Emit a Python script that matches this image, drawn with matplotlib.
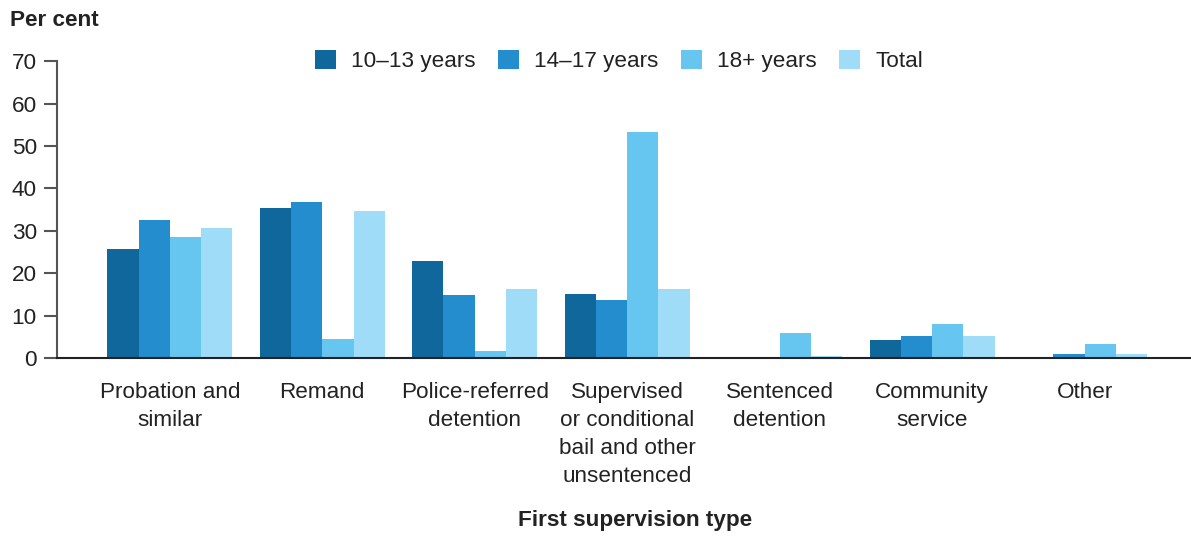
import numpy as np
import matplotlib.pyplot as plt

plt.rcParams['font.family'] = ['Liberation Sans', 'DejaVu Sans']

# Datos
categorias = ["Probation and\nsimilar", "Remand", "Police-referred\ndetention",
              "Supervised\nor conditional\nbail and other\nunsentenced",
              "Sentenced\ndetention", "Community\nservice", "Other"]
edad_10_13 = [25.7, 35.4, 22.9, 15.1, 0.2, 4.3, 0.2]
edad_14_17 = [32.5, 36.7, 14.8, 13.6, 0.2, 5.2, 1.0]
edad_18_mas = [28.5, 4.5, 1.7, 53.2, 5.8, 8.0, 3.4]
total = [30.7, 34.6, 16.2, 16.2, 0.6, 5.3, 1.0]

series = [edad_10_13, edad_14_17, edad_18_mas, total]
etiquetas = ["10\u201313 years", "14\u201317 years", "18+ years", "Total"]
colores = ["#10679B", "#238DCD", "#66C6F0", "#9FDCF7"]

fs = 16.2
fig = plt.figure(figsize=(11.91, 5.36), dpi=100)
ax = fig.add_axes([0.0479, 0.332, 0.951, 0.554])

x = np.arange(len(categorias))
ancho = 0.205
for i, (vals, etq, col) in enumerate(zip(series, etiquetas, colores)):
    ax.bar(x + (i - 1.5) * ancho, vals, ancho, color=col, label=etq)

ax.set_xlim(-0.74, 6.69)
ax.set_ylim(0, 70)
ax.set_yticks(range(0, 71, 10))
ax.set_xticks(x)
ax.set_xticklabels(categorias, fontsize=fs, color="#222222", linespacing=1.45)
ax.tick_params(axis='x', length=0, pad=17)
ax.tick_params(axis='y', labelsize=fs, labelcolor="#222222", length=9.5, width=1.5,
               color="#555555", direction='out', pad=5)

for s in ['top', 'right']:
    ax.spines[s].set_visible(False)
ax.spines['left'].set_color("#555555")
ax.spines['left'].set_linewidth(1.5)
ax.spines['bottom'].set_color("#222222")
ax.spines['bottom'].set_linewidth(1.5)

fig.text(0.008, 0.962, "Per cent", fontsize=fs, fontweight='bold', va='center', color="#222222")
fig.text(0.533, 0.028, "First supervision type", fontsize=fs, fontweight='bold',
         ha='center', va='center', color="#222222")

ax.legend(loc='center', bbox_to_anchor=(0.496, 1.0), ncol=4, frameon=False, fontsize=fs,
          handlelength=0.95, handleheight=0.95, handletextpad=0.65, columnspacing=1.0,
          labelcolor="#222222")

fig.savefig("out.png", dpi=100)
